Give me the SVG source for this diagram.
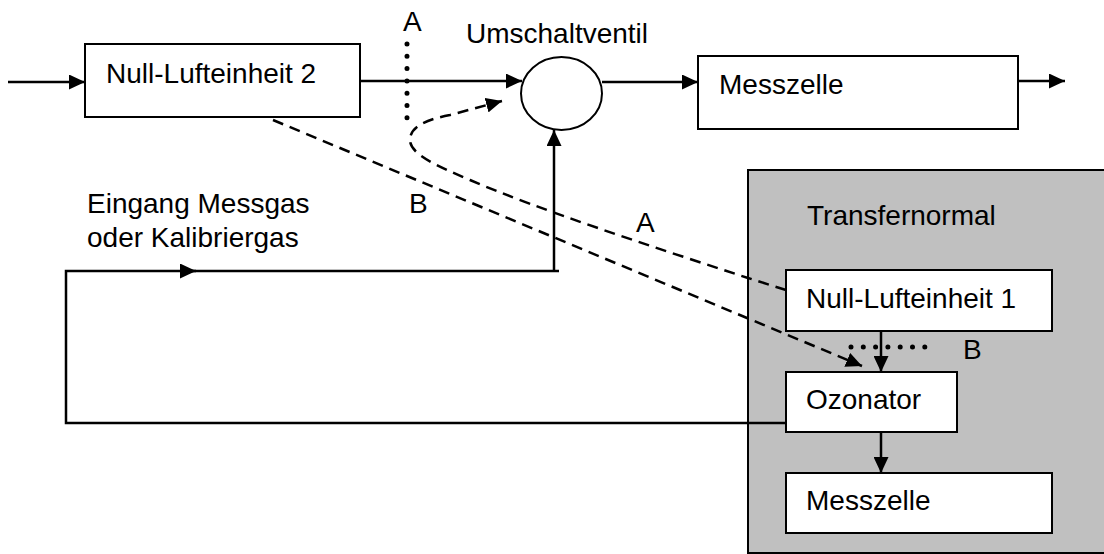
<svg xmlns="http://www.w3.org/2000/svg" width="1104" height="554" viewBox="0 0 1104 554">
<style>
text{font-family:"Liberation Sans",Arial,sans-serif;font-size:28px;fill:#000}
.box{fill:#fff;stroke:#000;stroke-width:2}
.ln{fill:none;stroke:#000;stroke-width:2.5}
.dash{fill:none;stroke:#000;stroke-width:2.5;stroke-dasharray:11 7}
.dot{fill:none;stroke:#000;stroke-width:5;stroke-linecap:round;stroke-dasharray:0 12.3}
</style>
<defs>
<marker id="ah" markerUnits="userSpaceOnUse" markerWidth="16" markerHeight="15" refX="16" refY="7.5" orient="auto">
<path d="M0,0 L16,7.5 L0,15 z" fill="#000"/>
</marker>
</defs>
<rect x="0" y="0" width="1104" height="554" fill="#fff"/>
<g id="transfernormal">
<rect x="748" y="170" width="400" height="383" fill="#c0c0c0" stroke="#000" stroke-width="2"/>
<text x="807" y="225">Transfernormal</text>
</g>
<g id="nullluft2">
<rect class="box" x="85" y="44" width="275" height="73"/>
<text x="106" y="83">Null-Lufteinheit 2</text>
</g>
<g id="umschaltventil">
<ellipse cx="561.5" cy="93.5" rx="40.5" ry="36.5" fill="#fff" stroke="#000" stroke-width="2"/>
<text x="466" y="43">Umschaltventil</text>
</g>
<g id="messzelle-top">
<rect class="box" x="698" y="56" width="320" height="73"/>
<text x="719" y="94">Messzelle</text>
</g>
<g id="nullluft1">
<rect class="box" x="786" y="270" width="266" height="61"/>
<text x="806" y="308">Null-Lufteinheit 1</text>
</g>
<g id="ozonator">
<rect class="box" x="786" y="372" width="171" height="60"/>
<text x="806" y="409">Ozonator</text>
</g>
<g id="messzelle-inner">
<rect class="box" x="786" y="473" width="266" height="60"/>
<text x="806" y="510">Messzelle</text>
</g>
<g id="labels">
<text x="87" y="213">Eingang Messgas</text>
<text x="87" y="247">oder Kalibriergas</text>
<text x="403" y="31">A</text>
<text x="409" y="213">B</text>
<text x="636" y="232">A</text>
<text x="963" y="359">B</text>
</g>
<g id="connectors">
<path class="ln" d="M8,82 H85" marker-end="url(#ah)"/>
<path class="ln" d="M360,81 H522" marker-end="url(#ah)"/>
<path class="ln" d="M602,82 H698" marker-end="url(#ah)"/>
<path class="ln" d="M1018,81 H1065" marker-end="url(#ah)"/>
<path class="ln" d="M786,423 H66 V271 H196" marker-end="url(#ah)"/>
<path class="ln" d="M190,271 H559"/>
<path class="ln" d="M554,271 V130" marker-end="url(#ah)"/>
<path class="ln" d="M881,331 V372" marker-end="url(#ah)"/>
<path class="ln" d="M881,432 V473" marker-end="url(#ah)"/>
<path class="dash" d="M273,120 L862,366" marker-end="url(#ah)"/>
<path class="dash" d="M786,290 L748,278 C650,246 540,210 470,180 C440,167 410,155 410,140 C410,125 430,119 450,115 L502,101" marker-end="url(#ah)"/>
<path class="dot" d="M407,44 V120"/>
<path class="dot" d="M851,347 H937"/>
</g>
</svg>
